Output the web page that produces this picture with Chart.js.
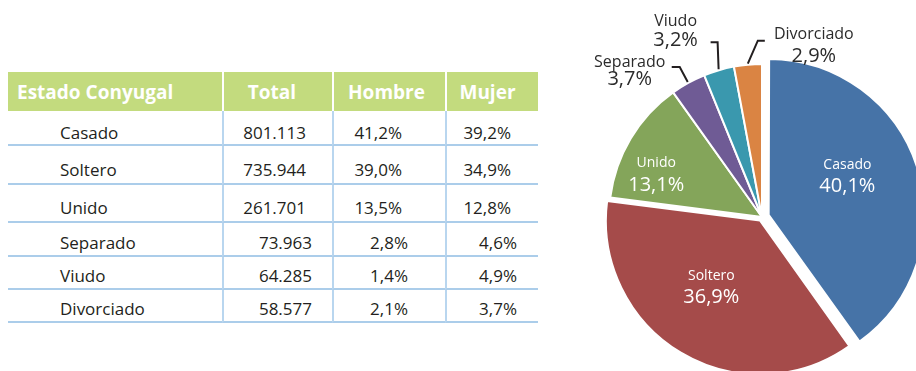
<!DOCTYPE html>
<html lang="es">
<head>
<meta charset="utf-8">
<title>Estado conyugal</title>
<script src="https://cdn.jsdelivr.net/npm/chart.js@4.4.1/dist/chart.umd.min.js"></script>
<style>
  html, body { margin: 0; padding: 0; background: #fff; }
  body { width: 916px; height: 371px; position: relative; overflow: hidden; font-family: "Open Sans", sans-serif; }

  /* tabla de la izquierda */
  #tabla { position: absolute; left: 8px; top: 72px; border-collapse: separate; border-spacing: 0;
           table-layout: fixed; width: 530px; color: #231f20; font-size: 17px; }
  #tabla th { background: #c3db7e; color: #fff; font-weight: 700; font-size: 19px; height: 39px;
              padding: 0; text-align: center; box-sizing: border-box; }
  #tabla th + th { border-left: 2px solid #fff; }
  #tabla th.c0 { text-align: left; padding-left: 9px; }
  #tabla th.c1 { padding-right: 12px; }
  #tabla th.c2 { padding-right: 6px; }
  #tabla th.c3 { padding-right: 10px; }
  #tabla td { border-bottom: 2px solid #abcdea; padding: 6px 0 0 0; text-align: right; box-sizing: border-box; }
  #tabla td + td { border-left: 2px solid #b9d6ef; }
  #tabla td.c0 { text-align: left; padding-left: 52px; }
  #tabla td.c1 { padding-right: 20px; }
  #tabla td.c2 { padding-right: 37px; }
  #tabla td.c3 { padding-right: 21px; }
  #tabla tr.ancha td { padding-top: 9px; }
  #tabla tr.ancha td.c1 { padding-right: 26px; }
  #tabla tr.ancha td.c2 { padding-right: 43px; }
  #tabla tr.ancha td.c3 { padding-right: 27px; }

  #torta { position: absolute; left: 560px; top: 0; }
</style>
</head>
<body>
<table id="tabla">
  <colgroup><col style="width:214px"><col style="width:110px"><col style="width:113px"><col style="width:93px"></colgroup>
  <thead><tr id="cabecera"></tr></thead>
  <tbody id="filas"></tbody>
</table>
<canvas id="torta" width="356" height="371"></canvas>

<script>
// Datos: población por estado conyugal
const encabezados = ["Estado Conyugal", "Total", "Hombre", "Mujer"];
const categorias = ["Casado", "Soltero", "Unido", "Separado", "Viudo", "Divorciado"];
const totales = [801113, 735944, 261701, 73963, 64285, 58577];
const hombres = [41.2, 39.0, 13.5, 2.8, 1.4, 2.1];
const mujeres = [39.2, 34.9, 12.8, 4.6, 4.9, 3.7];

const colores = ["#4673a7", "#a54b4a", "#84a55a", "#6f5b95", "#3a98ae", "#da8443"];
const separacion = [28, 16, 0, 0, 0, 0];
const altoFilas = [35, 39, 38, 34, 33, 33];

// ubicación de los rótulos de la torta
const rotulosDentro = {
  Casado: { r: 85, giro: -9 },
  Soltero: { r: 81, giro: 5.5 },
  Unido: { r: 114, giro: -9 }
};
const rotulosFuera = {
  Separado: { codo: [-8, -15], brazo: -8, texto: [-42, -5, 12] },
  Viudo: { codo: [-1, -27], brazo: -7, texto: [-35, -21, -2] },
  Divorciado: { codo: [10, -23], brazo: 7, texto: [49, -6, 16] }
};

function miles(n) {
  return String(n).replace(/\B(?=(\d{3})+(?!\d))/g, ".");
}
function porcentaje(v) {
  return v.toFixed(1).replace(".", ",") + "%";
}

// armar la tabla
const cab = document.getElementById("cabecera");
encabezados.forEach((t, j) => {
  const th = document.createElement("th");
  th.className = "c" + j;
  th.textContent = t;
  cab.appendChild(th);
});
const cuerpo = document.getElementById("filas");
categorias.forEach((c, i) => {
  const tr = document.createElement("tr");
  if (totales[i] >= 100000) tr.className = "ancha";
  [c, miles(totales[i]), porcentaje(hombres[i]), porcentaje(mujeres[i])].forEach((t, j) => {
    const td = document.createElement("td");
    td.className = "c" + j;
    td.style.height = altoFilas[i] + "px";
    td.textContent = t;
    tr.appendChild(td);
  });
  cuerpo.appendChild(tr);
});

// rótulos de la torta
const suma = totales.reduce((a, b) => a + b, 0);
const etiquetas = {
  id: "etiquetas",
  afterDatasetsDraw(chart) {
    const ctx = chart.ctx;
    const meta = chart.getDatasetMeta(0);
    ctx.save();
    ctx.textAlign = "center";
    ctx.textBaseline = "middle";
    meta.data.forEach((arco, i) => {
      const p = arco.getProps(["x", "y", "startAngle", "endAngle", "outerRadius"], true);
      const medio = (p.startAngle + p.endAngle) / 2;
      const off = (arco.options.offset || 0) / 4;
      const fix = 1 - Math.sin(Math.min(Math.PI, p.endAngle - p.startAngle));
      const desp = off * (1 + fix);
      const cx = p.x + Math.cos(medio) * desp;
      const cy = p.y + Math.sin(medio) * desp;
      const nombre = categorias[i];
      const pct = porcentaje(totales[i] / suma * 100);

      const dentro = rotulosDentro[nombre];
      if (dentro) {
        const a = medio + dentro.giro * Math.PI / 180;
        const x = cx + Math.cos(a) * dentro.r;
        const y = cy + Math.sin(a) * dentro.r;
        ctx.fillStyle = "#ffffff";
        ctx.font = '14px "Open Sans"';
        ctx.fillText(nombre, x, y - 11);
        ctx.font = '20px "Open Sans"';
        ctx.fillText(pct, x, y + 11);
        return;
      }

      const fuera = rotulosFuera[nombre];
      const bx = cx + Math.cos(medio) * (p.outerRadius + 1);
      const by = cy + Math.sin(medio) * (p.outerRadius + 1);
      const ex = bx + fuera.codo[0];
      const ey = by + fuera.codo[1];
      const fx = ex + fuera.brazo;
      ctx.strokeStyle = "#231f20";
      ctx.lineWidth = 2;
      ctx.beginPath();
      ctx.moveTo(bx, by);
      ctx.lineTo(ex, ey);
      ctx.lineTo(fx, ey);
      ctx.stroke();
      ctx.fillStyle = "#2b2b2b";
      ctx.font = '16px "Open Sans"';
      ctx.fillText(nombre, fx + fuera.texto[0], ey + fuera.texto[1]);
      ctx.font = '20px "Open Sans"';
      ctx.fillText(pct, fx + fuera.texto[0], ey + fuera.texto[2]);
    });
    ctx.restore();
  }
};

new Chart(document.getElementById("torta").getContext("2d"), {
  type: "pie",
  data: {
    labels: categorias,
    datasets: [{
      data: totales,
      backgroundColor: colores,
      borderColor: "#ffffff",
      borderWidth: 2,
      offset: separacion
    }]
  },
  options: {
    responsive: false,
    animation: false,
    radius: 153,
    layout: { padding: { left: 48, right: 0, top: 63, bottom: 0 } },
    events: [],
    plugins: {
      legend: { display: false },
      tooltip: { enabled: false }
    }
  },
  plugins: [etiquetas]
});
</script>
</body>
</html>
